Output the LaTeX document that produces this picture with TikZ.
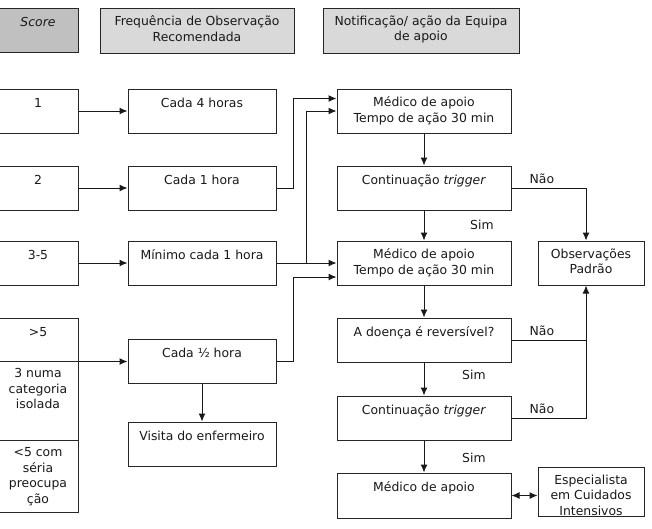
\documentclass[tikz,border=0pt]{standalone}
\usepackage{fontspec}
\setmainfont{DejaVu Sans}
\usetikzlibrary{arrows.meta}
\definecolor{hdrdark}{HTML}{C0C0C0}
\definecolor{hdrlight}{HTML}{D9D9D9}
\newcommand{\mkbox}[7][]{%
  \pgfmathsetmacro\mkbw{#5-#3}\pgfmathsetmacro\mkbh{#6-#4}%
  \node[box,#1,minimum width=\mkbw pt,minimum height=\mkbh pt] (#2) at ({(#3+#5)/2},{(#4+#6)/2}) {};
  \node[txt] at ([yshift=-8pt]#2.north) {#7};}
\tikzset{
  box/.style={draw=black!85, line width=1pt, fill=white, inner sep=0pt, rectangle},
  txt/.style={inner sep=0pt, anchor=north, align=center, text=black!90, font=\fontsize{12.4}{15.5}\selectfont, execute at begin node=\strut},
  lbl/.style={inner sep=0pt, text=black!90, font=\fontsize{12.4}{15.5}\selectfont},
  conn/.style={line width=1pt, draw=black!90},
  arr/.style={conn, -{Latex[length=8pt,width=7pt]}},
  dbl/.style={conn, {Latex[length=8pt,width=7pt]}-{Latex[length=8pt,width=7pt]}}
}
\begin{document}
\begin{tikzpicture}[x=1pt,y=-1pt]
\useasboundingbox (0,0) rectangle (652,528);
% headers
\mkbox[fill=hdrdark]{hs}{-2}{8}{78}{52}{\itshape Score}
\mkbox[fill=hdrlight]{hf}{100}{8}{294}{53}{Frequência de Observação\\Recomendada}
\mkbox[fill=hdrlight]{hn}{323}{8}{519}{53}{Notificação/ ação da Equipa\\de apoio}
% score column
\mkbox{s1}{-2}{89}{78}{133}{1}
\mkbox{s2}{-2}{166}{78}{210}{2}
\mkbox{s3}{-2}{241}{78}{285}{3-5}
\mkbox{s4a}{-2}{318}{78}{361}{>5}
\mkbox{s4b}{-2}{361}{78}{440}{3 numa\\categoria\\isolada}
\mkbox{s4c}{-2}{440}{78}{512}{<5 com\\séria\\preocupa\\ção}
% frequency column
\mkbox{f1}{128}{89}{276}{133}{Cada 4 horas}
\mkbox{f2}{128}{166}{276}{210}{Cada 1 hora}
\mkbox{f3}{128}{241}{276}{285}{Mínimo cada 1 hora}
\mkbox{f4}{128}{339}{276}{383}{Cada ½ hora}
\mkbox{v}{128}{422}{276}{466}{Visita do enfermeiro}
% notification column
\mkbox{m1}{337}{89}{511}{133}{Médico de apoio\\Tempo de ação 30 min}
\mkbox{c1}{337}{166}{511}{210}{Continuação \textit{trigger}}
\mkbox{m2}{337}{241}{511}{285}{Médico de apoio\\Tempo de ação 30 min}
\mkbox{d}{337}{318}{511}{362}{A doença é reversível?}
\mkbox{c2}{337}{396}{511}{440}{Continuação \textit{trigger}}
\mkbox{m3}{337}{473}{511}{518}{Médico de apoio}
\mkbox{obs}{538}{241}{644}{285}{Observações\\Padrão}
\mkbox{esp}{538}{467}{644}{516}{Especialista\\em Cuidados\\Intensivos}
% connectors
\draw[arr] (s1) -- (f1);
\draw[arr] (s2) -- (f2);
\draw[arr] (s3) -- (f3);
\draw[arr] (s4a.south east) -- (s4a.south east -| f4.west);
\draw[arr] (f4) -- (v);
\draw[arr] (f2.east) -- ++(17,0) |- ([yshift=-10pt]m1.north west);
\draw[arr] (f3) -- (m2);
\draw[arr] ([xshift=30pt]f3.east) |- (m1.west);
\draw[arr] (f4.east) -- ++(17,0) |- ([yshift=-14pt]m2.west);
\draw[arr] (m1) -- (c1);
\draw[arr] (c1) -- (m2);
\draw[arr] (m2) -- (d);
\draw[arr] (d) -- (c2);
\draw[arr] (c2) -- (m3);
\coordinate (vx) at ([xshift=-5pt]obs.north);
\coordinate (vy) at ([xshift=-5pt]obs.south);
\draw[arr] (c1.east) -| (vx);
\draw[arr] (c2.east) -| (vy);
\draw[conn] (d.east) -- (d.east -| vy);
\draw[dbl] (m3.east) -- (m3.east -| esp.west);
% labels
\node[lbl, anchor=base west] (n1) at ([xshift=18pt,yshift=5pt]c1.east) {Não};
\node[lbl, anchor=base west] (n2) at ([xshift=18pt,yshift=5pt]d.east) {Não};
\node[lbl, anchor=base west] (n3) at ([xshift=18pt,yshift=5pt]c2.east) {Não};
\node[lbl, anchor=west] (y1) at ([xshift=46pt,yshift=-14pt]c1.south) {Sim};
\node[lbl, anchor=west] (y2) at ([xshift=38pt,yshift=-12pt]d.south) {Sim};
\node[lbl, anchor=west] (y3) at ([xshift=38pt,yshift=-17pt]c2.south) {Sim};
\end{tikzpicture}
\end{document}
